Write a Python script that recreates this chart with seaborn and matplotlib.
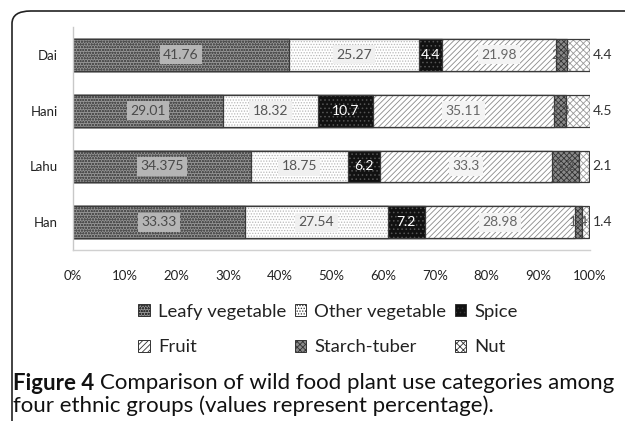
import matplotlib
matplotlib.use("Agg")
import matplotlib.pyplot as plt
import seaborn as sns
import numpy as np
import pandas as pd
from matplotlib.patches import FancyBboxPatch, Patch

# ---- data ----
groups = ["Dai", "Hani", "Lahu", "Han"]
categories = ["Leafy vegetable", "Other vegetable", "Spice", "Fruit", "Starch-tuber", "Nut"]
leafy = [41.76, 29.01, 34.375, 33.33]
other_veg = [25.27, 18.32, 18.75, 27.54]
spice = [4.4, 10.7, 6.2, 7.2]
fruit = [21.98, 35.11, 33.3, 28.98]
starch = [2.2, 2.3, 5.2, 1.4]
nut = [4.4, 4.5, 2.1, 1.4]
label_leafy = ["41.76", "29.01", "34.375", "33.33"]
label_other = ["25.27", "18.32", "18.75", "27.54"]
label_spice = ["4.4", "10.7", "6.2", "7.2"]
label_fruit = ["21.98", "35.11", "33.3", "28.98"]
label_starch = ["2.2", "2.3", "5.2", "1.4"]
label_nut = ["4.4", "4.5", "2.1", "1.4"]
xticks = [0, 10, 20, 30, 40, 50, 60, 70, 80, 90, 100]

series = [leafy, other_veg, spice, fruit, starch, nut]
labels = [label_leafy, label_other, label_spice, label_fruit, label_starch, label_nut]

sns.set_theme(style="white")
plt.rcParams["font.family"] = ["Lato", "DejaVu Sans"]
plt.rcParams["hatch.linewidth"] = 0.6

styles = [
    dict(face="#949494", hatch="oooooo", hc="#505050"),
    dict(face="#ffffff", hatch="......", hc="#b8b8b8"),
    dict(face="#111111", hatch="....", hc="#555555"),
    dict(face="#ffffff", hatch="//////", hc="#8a8a8a"),
    dict(face="#8a8a8a", hatch="xxxxxx", hc="#333333"),
    dict(face="#ffffff", hatch="xxxxx", hc="#9a9a9a"),
]

df = pd.DataFrame(np.array(series).T, columns=categories)
df["group"] = groups
cum = df[categories].cumsum(axis=1)
left = cum.shift(1, axis=1).fillna(0)

fig = plt.figure(figsize=(6.25, 4.21), dpi=100)
ax = fig.add_axes([0.1168, 0.406, 0.827, 0.530])

for k in range(len(categories) - 1, -1, -1):
    st = styles[k]
    d = pd.DataFrame({"group": groups, "val": cum[categories[k]].values})
    n0 = len(ax.patches)
    sns.barplot(data=d, x="val", y="group", order=groups, orient="h",
                color=st["face"], width=0.57, ax=ax, saturation=1)
    for p in ax.patches[n0:]:
        p.set_facecolor(st["face"])
        p.set_hatch(st["hatch"])
        p.set_edgecolor(st["hc"])
        p.set_linewidth(0)
    n1 = len(ax.patches)
    sns.barplot(data=d, x="val", y="group", order=groups, orient="h",
                fill=False, width=0.57, ax=ax, saturation=1)
    for p in ax.patches[n1:]:
        p.set_facecolor("none")
        p.set_edgecolor("#3a3a3a")
        p.set_linewidth(0.9)

# data labels
box_colors = ["#b5b5b5", "#f0f0f0", None, "#f4f4f4", None, None]
text_colors = ["#4a4a4a", "#555555", "#ffffff", "#666666", "#555555", "#333333"]
for k in range(len(categories)):
    for i in range(len(groups)):
        c = left[categories[k]].iloc[i] + series[k][i] / 2
        if k == 5:
            ax.text(100.5, i, labels[k][i], ha="left", va="center",
                    fontsize=10, color=text_colors[k])
            continue
        kw = {}
        if box_colors[k]:
            kw["bbox"] = dict(boxstyle="square,pad=0.25", fc=box_colors[k], ec="none")
        ax.text(c, i, labels[k][i], ha="center", va="center",
                fontsize=10, color=text_colors[k], **kw)

ax.set_xlim(0, 100)
ax.set_ylim(3.5, -0.5)
ax.set_xticks(xticks)
ax.set_xticklabels([f"{t}%" for t in xticks], fontsize=9.5, color="#222222")
ax.tick_params(axis="x", length=0, pad=14)
ax.tick_params(axis="y", length=0, pad=11, labelsize=9.5, labelcolor="#222222")
ax.set_xlabel("")
ax.set_ylabel("")
for s in ["top", "right"]:
    ax.spines[s].set_visible(False)
ax.spines["left"].set_color("#c8c8c8")
ax.spines["bottom"].set_color("#d0d0d0")
ax.spines["left"].set_linewidth(1.0)
ax.spines["bottom"].set_linewidth(1.0)

# legend (row-wise order for 3 columns)
handles = [Patch(facecolor=st["face"], edgecolor="#333333", hatch=st["hatch"], linewidth=0.7)
           for st in styles]
order = [0, 3, 1, 4, 2, 5]
leg = fig.legend([handles[i] for i in order], [categories[i] for i in order],
                 ncol=3, loc="center",
                 bbox_to_anchor=(0.525, 1 - 329.5 / 421), frameon=False, fontsize=13.3,
                 handlelength=0.62, handleheight=0.62, handletextpad=0.45,
                 columnspacing=0.45, labelspacing=1.05)
for t in leg.get_texts():
    t.set_color("#222222")

# caption
fig.canvas.draw()
r = fig.canvas.get_renderer()
t1 = fig.text(0.021, 1 - 383 / 421, "Figure 4", fontsize=16, fontweight="bold",
              va="center", ha="left", color="#111111")
bb = t1.get_window_extent(renderer=r)
fig.text(bb.x1 / 625 + 0.009, 1 - 383 / 421,
         "Comparison of wild food plant use categories among", fontsize=16,
         va="center", ha="left", color="#111111")
fig.text(0.021, 1 - 406 / 421, "four ethnic groups (values represent percentage).",
         fontsize=16, va="center", ha="left", color="#111111")

# frame
frame = FancyBboxPatch((12 / 625, -0.1), 1.2, 1 - 11 / 421 + 0.1,
                       boxstyle="round,pad=0,rounding_size=0.03",
                       transform=fig.transFigure, fill=False,
                       ec="#222222", lw=1.2, clip_on=False)
fig.patches.append(frame)

fig.savefig("out.png", dpi=100)
